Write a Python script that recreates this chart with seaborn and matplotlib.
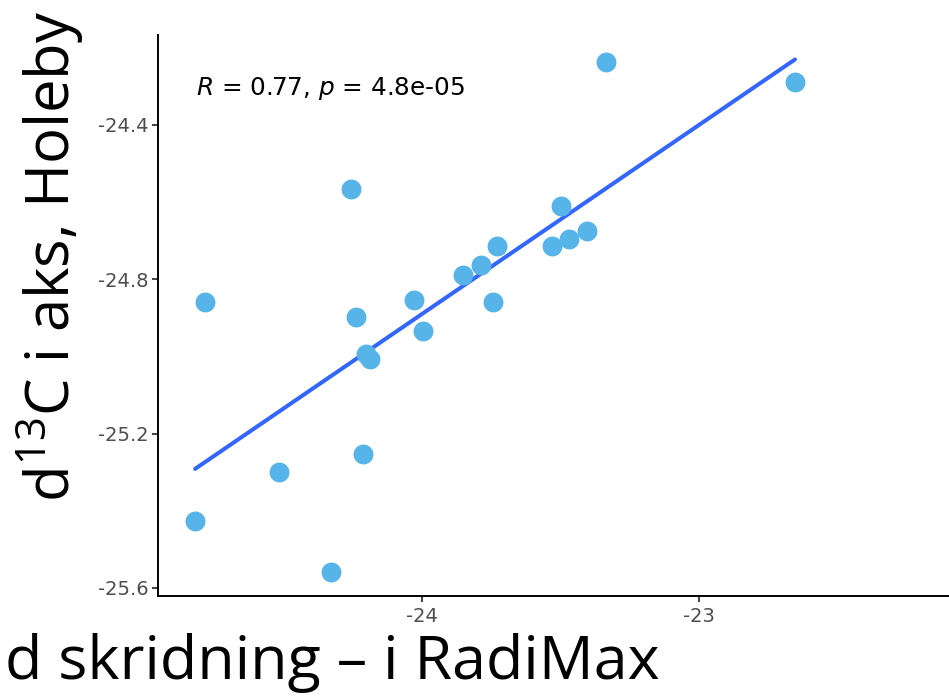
import matplotlib
matplotlib.use("Agg")
import matplotlib.pyplot as plt
import seaborn as sns
import pandas as pd

# --- data ---
radimax = [-23.336, -22.653, -24.256, -24.783, -23.498, -23.729, -23.404,
           -23.469, -23.531, -23.787, -23.852, -24.029, -23.744, -24.238,
           -23.996, -24.202, -24.188, -24.516, -24.213, -24.819, -24.329]
holeby = [-24.237, -24.289, -24.566, -24.858, -24.609, -24.715, -24.674,
          -24.695, -24.715, -24.762, -24.790, -24.853, -24.858, -24.899,
          -24.933, -24.995, -25.008, -25.300, -25.253, -25.427, -25.559]
x_ticks = [-24, -23]
y_ticks = [-24.4, -24.8, -25.2, -25.6]
x_tick_labels = ["-24", "-23"]
y_tick_labels = ["-24.4", "-24.8", "-25.2", "-25.6"]
annotation = "$\\mathit{R}$ = 0.77, $\\mathit{p}$ = 4.8e-05"
x_label = "d skridning \u2013 i RadiMax"
y_label = "d$\\mathregular{^{13}}$C i aks, Holeby"

df = pd.DataFrame({"radimax": radimax, "holeby": holeby})

sns.set_style("white")
plt.rcParams["font.family"] = ["DejaVu Sans"]
plt.rcParams["axes.unicode_minus"] = False

W, H = 949, 698
fig = plt.figure(figsize=(W / 100, H / 100), dpi=100)
left, right, top, bottom = 158, 949, 35, 596
ax = fig.add_axes([left / W, 1 - bottom / H, (right - left) / W, (bottom - top) / H])

sns.regplot(data=df, x="radimax", y="holeby", ax=ax, ci=None, truncate=True,
            scatter_kws=dict(s=205, color="#56B4E9", alpha=1, linewidths=0, zorder=3),
            line_kws=dict(color="#3366FF", linewidth=2.9, zorder=2))

ax.set_xlim(-24.953, -22.097)
ax.set_ylim(-25.621, -24.167)
ax.set_xticks(x_ticks)
ax.set_xticklabels(x_tick_labels)
ax.set_yticks(y_ticks)
ax.set_yticklabels(y_tick_labels)
ax.set_xlabel("")
ax.set_ylabel("")

for side in ["top", "right"]:
    ax.spines[side].set_visible(False)
for side in ["left", "bottom"]:
    ax.spines[side].set_color("black")
    ax.spines[side].set_linewidth(1.4)
ax.tick_params(axis="both", which="major", direction="out", length=4,
               width=1.3, color="#333333", labelcolor="#4D4D4D", labelsize=14)
ax.tick_params(axis="x", pad=4, bottom=True)
ax.tick_params(axis="y", pad=2.5, left=True)

ax.text(196 / W, 1 - 95 / H, annotation, transform=fig.transFigure,
        fontsize=17.8, color="black", ha="left", va="baseline",
        family=["DejaVu Sans"])

fig.text(660 / W, 1 - 679 / H, x_label, ha="right", va="baseline",
         fontsize=44, family=["Open Sans", "DejaVu Sans"], color="black")
fig.text(70 / W, 1 - 502 / H, y_label, rotation=90, rotation_mode="anchor",
         ha="left", va="baseline", fontsize=43,
         family=["Open Sans", "DejaVu Sans"], color="black")

fig.savefig("out.png", dpi=100)
